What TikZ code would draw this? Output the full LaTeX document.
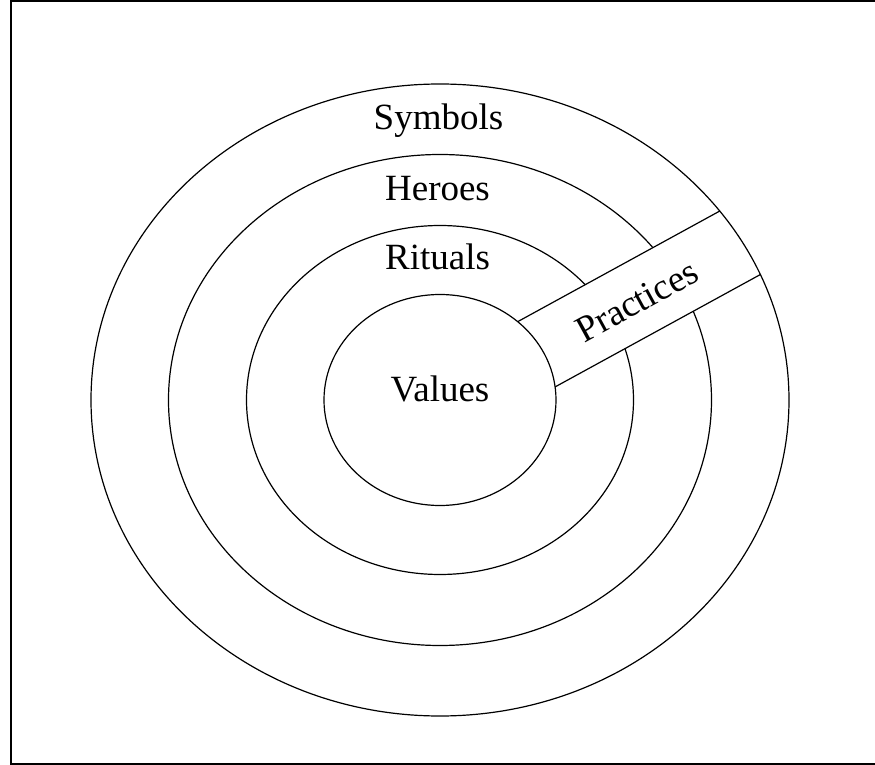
\documentclass[tikz,border=0pt]{standalone}
\usepackage{fontspec}
\setmainfont{Liberation Serif}
\usepackage{tikz}
\usetikzlibrary{positioning}

\begin{document}
\begin{tikzpicture}[
  x=0.5pt, y=0.5pt,
  ring/.style={draw=black, line width=0.6pt},
  bandline/.style={draw=black, line width=0.6pt},
  ringtext/.style={anchor=base, inner sep=0pt, font=\fontsize{18.5}{22}\selectfont}
]
  \clip (0,0) rectangle (875,-765);
  \coordinate (c) at (440,-400);
  % frame
  \draw[line width=1.15pt] (11,-1.2) rectangle (900,-764);
  % middle rings
  \draw[ring] (c) ellipse [x radius=271.5, y radius=245.5];
  \draw[ring] (c) ellipse [x radius=193.5, y radius=174.5];
  % practices band
  \begin{scope}
    \clip (c) ellipse [x radius=349, y radius=316];
    \begin{scope}[shift={(c)}, rotate=28.7]
      \fill[white] (0,-43.8) rectangle (400,31.4);
      \draw[bandline] (0,-43.8) -- (400,-43.8);
      \draw[bandline] (0,31.4) -- (400,31.4);
    \end{scope}
  \end{scope}
  % outer and inner rings
  \draw[ring] (c) ellipse [x radius=349, y radius=316];
  \draw[ring, fill=white] (c) ellipse [x radius=116, y radius=105.5];
  % labels
  \node[ringtext] (sym) at (438.5,-130) {Symbols};
  \node[ringtext] (her) at (437.5,-201) {Heroes};
  \node[ringtext] (rit) at (437.5,-270) {Rituals};
  \node[ringtext] (val) at (440,-401) {Values};
  \node[ringtext, anchor=center, rotate=28.7] (prac) at (637,-301) {Practices};
\end{tikzpicture}
\end{document}
